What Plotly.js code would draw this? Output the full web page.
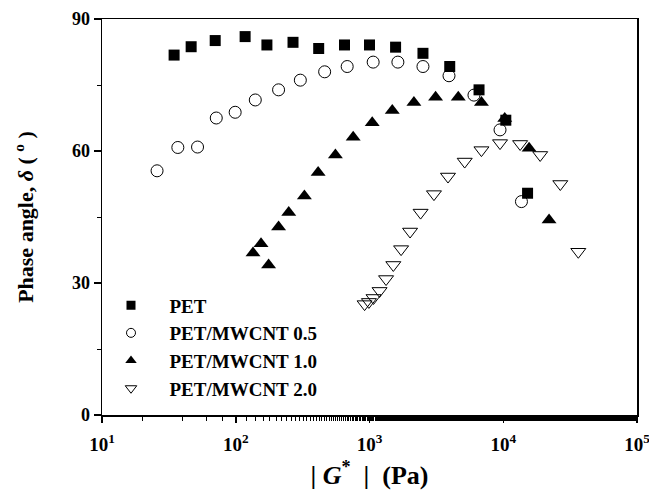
<!DOCTYPE html>
<html><head><meta charset="utf-8">
<script src="https://cdn.plot.ly/plotly-3.0.1.min.js"></script>
<style>html,body{margin:0;padding:0;background:#fff}</style>
</head><body><div id="chart" style="width:649px;height:495px"></div>
<script>
const petX = [34.6, 46.4, 70.2, 117.5, 171, 268, 417, 650, 1000, 1567, 2510, 3980, 6590, 10450, 15200];
const petY = [81.8, 83.7, 85.1, 86.0, 84.1, 84.7, 83.3, 84.1, 84.1, 83.6, 82.2, 79.2, 73.9, 67.0, 50.4];
const cnt05X = [25.8, 36.9, 51.8, 71.5, 99, 140, 209, 304, 462, 681, 1065, 1630, 2510, 3930, 6040, 9460, 13680];
const cnt05Y = [55.5, 60.8, 60.9, 67.5, 68.8, 71.6, 73.9, 76.1, 78.0, 79.2, 80.2, 80.2, 79.2, 77.1, 72.7, 64.8, 48.5];
const cnt10X = [134.6, 154.5, 176, 209, 249, 326, 413, 556, 755, 1048, 1480, 2148, 3120, 4610, 6870, 10260, 15600, 22000];
const cnt10Y = [36.8, 38.9, 34.1, 42.7, 46.0, 49.8, 55.1, 59.1, 63.1, 66.4, 69.2, 71.0, 72.2, 72.2, 71.0, 67.4, 60.6, 44.3];
const cnt20X = [919, 990, 1072, 1189, 1330, 1507, 1723, 2011, 2410, 3033, 3862, 5150, 6870, 9460, 13370, 18880, 26700, 36400];
const cnt20Y = [25.2, 25.7, 26.6, 28.2, 30.9, 34.1, 37.7, 41.7, 46.0, 50.2, 54.2, 57.6, 60.2, 61.8, 61.6, 59.1, 52.5, 37.1];
const seriesNames = ['PET', 'PET/MWCNT 0.5', 'PET/MWCNT 1.0', 'PET/MWCNT 2.0'];
const xTickVals = [10, 100, 1000, 10000, 100000];
const xTickText = ['10<sup>1</sup>', '10<sup>2</sup>', '10<sup>3</sup>', '10<sup>4</sup>', '10<sup>5</sup>'];
const yTickVals = [0, 30, 60, 90];

const styles = [
  {symbol: 'square', size: 11, color: '#000', line: {color: '#000', width: 0}},
  {symbol: 'circle-open', size: 12, color: '#000', line: {color: '#000', width: 1}},
  {symbol: 'triangle-up', size: 13, color: '#000', line: {color: '#000', width: 0}},
  {symbol: 'triangle-down-open', size: 13, color: '#000', line: {color: '#000', width: 1}}
];
const legendStyles = [
  {symbol: 'square', size: 9, color: '#000'},
  {symbol: 'circle-open', size: 9, color: '#000', line: {width: 1}},
  {symbol: 'triangle-up', size: 10, color: '#000'},
  {symbol: 'triangle-down-open', size: 10, color: '#000', line: {width: 1}}
];
const xs = [petX, cnt05X, cnt10X, cnt20X];
const ys = [petY, cnt05Y, cnt10Y, cnt20Y];
const pad = '\u00a0\u00a0';
const data = [];
for (let i = 0; i < 4; i++) {
  data.push({x: xs[i], y: ys[i], type: 'scatter', mode: 'markers', name: seriesNames[i],
    marker: styles[i], showlegend: false});
}
for (let i = 0; i < 4; i++) {
  data.push({x: [null], y: [null], type: 'scatter', mode: 'markers', name: pad + seriesNames[i],
    marker: legendStyles[i], showlegend: true});
}
const font = {family: 'Liberation Serif, Times New Roman, serif', color: '#000'};
const layout = {
  width: 649, height: 495,
  margin: {l: 102, r: 12, t: 19, b: 80},
  paper_bgcolor: '#fff', plot_bgcolor: '#fff',
  font: Object.assign({size: 14}, font),
  showlegend: true,
  legend: {x: 0, y: 0.325, xanchor: 'left', yanchor: 'top', bgcolor: 'rgba(0,0,0,0)',
    font: Object.assign({size: 19, weight: 'bold'}, font), tracegroupgap: 0, itemwidth: 48},
  xaxis: {
    type: 'log', range: [1, 5], tickvals: xTickVals, ticktext: xTickText,
    ticks: 'outside', ticklen: 6, tickwidth: 1.5, tickcolor: '#000', ticklabelstandoff: 6,
    ticklabeloverflow: 'allow',
    minor: {ticks: 'outside', ticklen: 4, tickwidth: 1, tickcolor: '#000', showgrid: false},
    showline: true, linecolor: '#000', linewidth: 1.5, mirror: true, showgrid: false, zeroline: false,
    tickfont: Object.assign({size: 19, weight: 'bold'}, font),
    title: {text: '| <i>G</i><sup>*</sup>  |  (Pa)', font: Object.assign({size: 26, weight: 'bold'}, font), standoff: 11}
  },
  yaxis: {
    range: [0, 90], tickvals: yTickVals,
    ticks: 'outside', ticklen: 7, tickwidth: 1.5, tickcolor: '#000',
    minor: {ticks: 'outside', ticklen: 4, tickwidth: 1, tickcolor: '#000', dtick: 15, showgrid: false},
    showline: true, linecolor: '#000', linewidth: 1.5, mirror: true, showgrid: false, zeroline: false,
    tickfont: Object.assign({size: 18, weight: 'bold'}, font),
    title: {text: 'Phase angle, <i>δ</i> ( <sup>o</sup> )', font: Object.assign({size: 22, weight: 'bold'}, font), standoff: 32}
  }
};
Plotly.newPlot('chart', data, layout, {displayModeBar: false, staticPlot: true});
</script></body></html>
